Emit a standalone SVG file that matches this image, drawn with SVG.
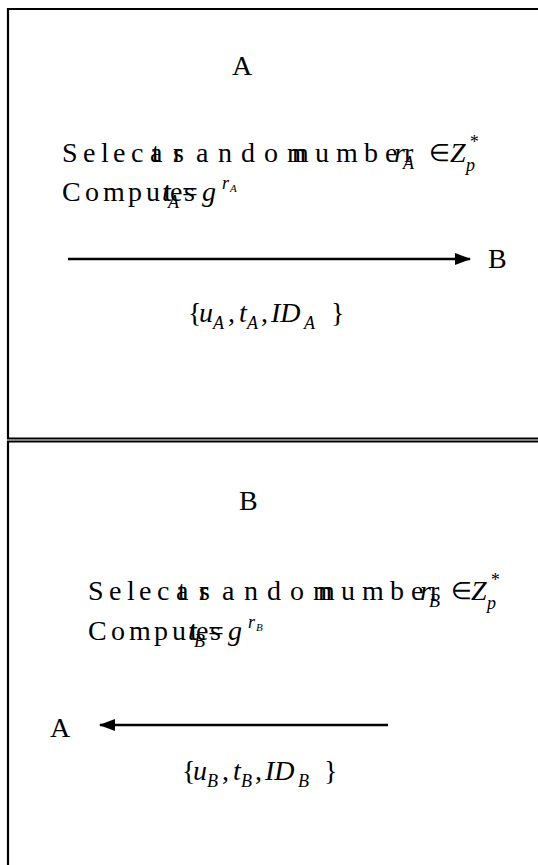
<svg xmlns="http://www.w3.org/2000/svg" width="538" height="865" viewBox="0 0 538 865">
<defs>
<style>
.t{font-family:"Liberation Serif","Times New Roman",serif;font-size:28px;fill:#000}
.i{font-style:italic}
.sub{font-size:18px}
.tiny{font-size:11px}
.el{font-size:24px}
.frame{stroke:#000;stroke-width:2.2;fill:none}
.conn{stroke:#000;stroke-width:2.4;fill:none}
</style>
<marker id="ah" viewBox="0 0 16 12" refX="15" refY="6" markerWidth="16" markerHeight="12" orient="auto" markerUnits="userSpaceOnUse">
<path d="M0,0 L16,6 L0,12 z" fill="#000"/>
</marker>
</defs>
<rect width="538" height="865" fill="#fff"/>
<g id="frames">
<path class="frame" d="M538,9 H8 V438.5 H538"/>
<path class="frame" d="M538,441.5 H8 V865"/>
</g>
<g id="nodeA">
<text class="t" x="232" y="75">A</text>
<text class="t" x="62 83 101 113 131 152 173" y="162">Selects</text>
<text class="t" x="150 173 196 218 241 264 287" y="162">arandom</text>
<text class="t" x="292 315 336 364 385 404" y="162">number</text>
<text class="t i" x="394" y="162">r</text><text class="t i sub" x="403" y="169">A</text>
<text class="t el" x="429" y="161">∈</text>
<text class="t i" x="450" y="162">Z</text><text class="t i sub" x="466" y="171">p</text><text class="t i sub" x="469" y="148">*</text>
<text class="t" x="62 85 103 128 146 164 170 184" y="201">Computes</text>
<text class="t i" x="162" y="201">t</text><text class="t i sub" x="168" y="208">A</text>
<text class="t" x="182" y="201">=</text>
<text class="t i" x="202" y="201">g</text><text class="t i sub" x="222" y="189">r</text><text class="t i tiny" x="230" y="192">A</text>
<text class="t" x="488" y="268">B</text>
<text class="t" x="188" y="322">{</text>
<text class="t i" x="199" y="322">u</text><text class="t i sub" x="213" y="329">A</text>
<text class="t" x="228" y="322">,</text>
<text class="t i" x="239" y="322">t</text><text class="t i sub" x="247" y="329">A</text>
<text class="t" x="261" y="322">,</text>
<text class="t i" x="271" y="322">ID</text><text class="t i sub" x="304" y="329">A</text>
<text class="t" x="331" y="322">}</text>
</g>
<g id="nodeB">
<text class="t" x="239" y="510">B</text>
<text class="t" x="88 109 127 139 157 178 199" y="600">Selects</text>
<text class="t" x="176 199 222 244 267 290 313" y="600">arandom</text>
<text class="t" x="318 341 362 390 411 430" y="600">number</text>
<text class="t i" x="420" y="600">r</text><text class="t i sub" x="429" y="607">B</text>
<text class="t el" x="451" y="599">∈</text>
<text class="t i" x="471" y="600">Z</text><text class="t i sub" x="487" y="609">p</text><text class="t i sub" x="490" y="586">*</text>
<text class="t" x="88 111 129 154 172 190 196 210" y="640">Computes</text>
<text class="t i" x="188" y="640">t</text><text class="t i sub" x="194" y="647">B</text>
<text class="t" x="208" y="640">=</text>
<text class="t i" x="228" y="640">g</text><text class="t i sub" x="248" y="628">r</text><text class="t i tiny" x="256" y="631">B</text>
<text class="t" x="50" y="737">A</text>
<text class="t" x="182" y="780">{</text>
<text class="t i" x="193" y="780">u</text><text class="t i sub" x="207" y="787">B</text>
<text class="t" x="222" y="780">,</text>
<text class="t i" x="233" y="780">t</text><text class="t i sub" x="241" y="787">B</text>
<text class="t" x="255" y="780">,</text>
<text class="t i" x="265" y="780">ID</text><text class="t i sub" x="298" y="787">B</text>
<text class="t" x="324" y="780">}</text>
</g>
<g id="connectors">
<line class="conn" x1="68" y1="259" x2="470" y2="259" marker-end="url(#ah)"/>
<line class="conn" x1="388" y1="725" x2="100" y2="725" marker-end="url(#ah)"/>
</g>
</svg>
